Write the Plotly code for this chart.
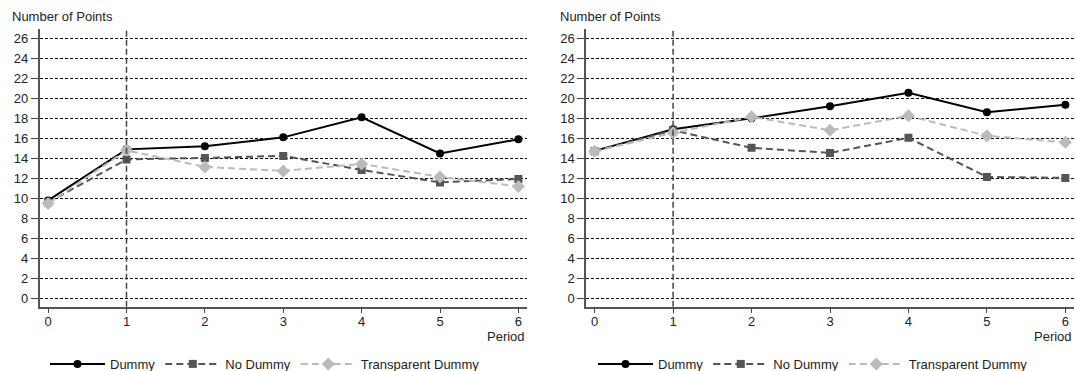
import plotly.graph_objects as go

periods = [0, 1, 2, 3, 4, 5, 6]
treatment_period = 1

# Left panel
left_dummy = [9.8, 14.9, 15.2, 16.1, 18.1, 14.5, 15.9]
left_no_dummy = [9.6, 13.9, 14.05, 14.25, 12.85, 11.6, 11.95]
left_transparent = [9.5, 14.8, 13.15, 12.75, 13.45, 12.15, 11.2]

# Right panel
right_dummy = [14.75, 16.9, 18.0, 19.2, 20.55, 18.6, 19.35]
right_no_dummy = [14.7, 16.8, 15.05, 14.55, 16.05, 12.15, 12.05]
right_transparent = [14.7, 16.55, 18.15, 16.8, 18.25, 16.25, 15.6]

y_ticks = list(range(0, 27, 2))
series_names = ["Dummy", "No Dummy", "Transparent Dummy"]

styles = [
    dict(color="#000000", dash="solid", symbol="circle", size=8),
    dict(color="#555555", dash="7px,4px", symbol="square", size=8),
    dict(color="#bbbbbb", dash="7px,4px", symbol="diamond", size=10),
]

W, H = 1076, 379
REF_H = 371
def px(X):
    return X / W
def py(Y):
    return (REF_H - Y) / REF_H

fig = go.Figure()

panels = [
    (left_dummy, left_no_dummy, left_transparent, "x", "y", "legend"),
    (right_dummy, right_no_dummy, right_transparent, "x2", "y2", "legend2"),
]

for vals_d, vals_n, vals_t, xa, ya, leg in panels:
    for name, vals, st in zip(series_names, [vals_d, vals_n, vals_t], styles):
        fig.add_trace(go.Scatter(
            x=periods, y=vals, name=name, mode="lines+markers",
            xaxis=xa, yaxis=ya, legend=leg,
            line=dict(color=st["color"], width=2, dash=st["dash"]),
            marker=dict(symbol=st["symbol"], size=st["size"], color=st["color"]),
        ))

axis_common_x = dict(
    range=[-0.11, 6.11], tickvals=periods, ticks="outside", ticklen=5,
    ticklabelstandoff=-3,
    tickcolor="#444444", showline=True, linecolor="#555555", linewidth=1.5,
    showgrid=False, zeroline=False, tickfont=dict(size=13, color="#222222"),
)
axis_common_y = dict(
    range=[-0.8, 26.9], tickvals=y_ticks, ticks="outside", ticklen=7,
    tickcolor="#444444", showline=True, linecolor="#555555", linewidth=1.5,
    showgrid=True, gridcolor="#000000", gridwidth=1, griddash="3px,2px",
    zeroline=False, tickfont=dict(size=13, color="#222222"),
)

ydom = [py(305), py(29)]
fig.update_layout(
    width=W, height=H,
    margin=dict(l=0, r=0, t=0, b=0),
    paper_bgcolor="white", plot_bgcolor="white",
    font=dict(family="Liberation Sans, Arial, sans-serif", size=13, color="#222222"),
    xaxis=dict(domain=[px(39.5), px(527)], anchor="y", **axis_common_x),
    yaxis=dict(domain=ydom, anchor="x", **axis_common_y),
    xaxis2=dict(domain=[px(586), px(1074)], anchor="y2", **axis_common_x),
    yaxis2=dict(domain=ydom, anchor="x2", **axis_common_y),
    legend=dict(orientation="h", x=px(45), y=py(362), xanchor="left", yanchor="middle",
                itemwidth=55, font=dict(size=13), bgcolor="rgba(0,0,0,0)"),
    legend2=dict(orientation="h", x=px(593), y=py(362), xanchor="left", yanchor="middle",
                 itemwidth=55, font=dict(size=13), bgcolor="rgba(0,0,0,0)"),
)

for xref, yref in [("x", "y domain"), ("x2", "y2 domain")]:
    fig.add_shape(type="line", xref=xref, yref=yref, x0=treatment_period, x1=treatment_period,
                  y0=0, y1=1, line=dict(color="#444444", width=1.5, dash="6px,3px"), layer="above")

for X in (10, 558):
    fig.add_annotation(text="Number of Points", xref="paper", yref="paper",
                       x=px(X), y=py(16), xanchor="left", yanchor="middle",
                       showarrow=False, font=dict(size=13))
for xr in ("x domain", "x2 domain"):
    fig.add_annotation(text="Period", xref=xr, yref="paper",
                       x=1, y=py(335), xanchor="right", yanchor="middle",
                       showarrow=False, font=dict(size=13))

fig.write_html("out.html", config={"displayModeBar": False},
               post_script="document.body.style.margin='0';")
